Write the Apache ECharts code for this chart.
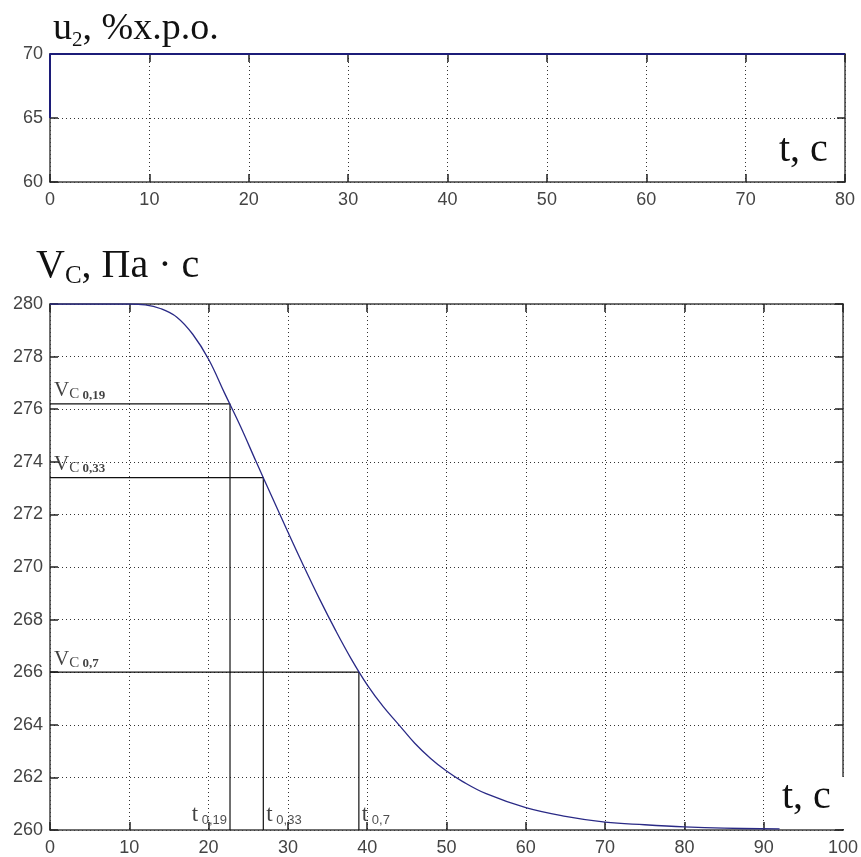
<!DOCTYPE html>
<html>
<head>
<meta charset="utf-8">
<script src="https://cdn.jsdelivr.net/npm/echarts@6/dist/echarts.min.js"></script>
<style>
html, body { margin: 0; padding: 0; background: #fff; }
#main { width: 861px; height: 857px; }
</style>
</head>
<body>
<div id="main"></div>
<script>
// u2 step (top plot)
var u2T = [0, 0, 80];
var u2V = [65, 70, 70];

// Vc response (bottom plot)
var vcT = [0, 5, 10, 12, 14, 16, 18, 20, 22, 24, 26, 28, 30, 32, 34, 36, 38, 40, 42, 44, 46, 48, 50, 52, 55, 60, 65, 70, 75, 80, 85, 92];
var vcV = [280, 280, 280, 279.97, 279.82, 279.5, 278.85, 277.9, 276.62, 275.36, 274.0, 272.66, 271.33, 270.03, 268.78, 267.6, 266.5, 265.52, 264.7, 264.0, 263.3, 262.72, 262.24, 261.85, 261.38, 260.85, 260.52, 260.3, 260.2, 260.12, 260.07, 260.04];

// marked levels
var markT = [22.7, 26.9, 38.95];
var markV = [276.2, 273.4, 266.0];
var markName = ['0,19', '0,33', '0,7'];

var topXTicks = { min: 0, max: 80, interval: 10 };
var topYTicks = { min: 60, max: 70, interval: 5 };
var botXTicks = { min: 0, max: 100, interval: 10 };
var botYTicks = { min: 260, max: 280, interval: 2 };

function zip(a, b) {
    var out = [];
    for (var i = 0; i < a.length; i++) out.push([a[i], b[i]]);
    return out;
}

var axisCol = '#404040';
var gridLine = { show: true, lineStyle: { color: '#333', width: 1, type: [1, 3] } };

function xAx(grid, r, bottom) {
    return {
        type: 'value', gridIndex: grid, min: r.min, max: r.max, interval: r.interval,
        position: bottom ? 'bottom' : 'top',
        axisLine: { show: true, onZero: false, lineStyle: { color: axisCol, width: 1.5 } },
        axisTick: { show: true, inside: true, length: 8, lineStyle: { color: '#222', width: 1.5 } },
        axisLabel: { show: bottom, color: '#444', fontSize: 18, fontFamily: 'Liberation Sans', margin: 9 },
        splitLine: bottom ? gridLine : { show: false }
    };
}
function yAx(grid, r, left) {
    return {
        type: 'value', gridIndex: grid, min: r.min, max: r.max, interval: r.interval,
        position: left ? 'left' : 'right',
        axisLine: { show: true, onZero: false, lineStyle: { color: axisCol, width: 1.5 } },
        axisTick: { show: true, inside: true, length: 8, lineStyle: { color: '#222', width: 1.5 } },
        axisLabel: { show: left, color: '#444', fontSize: 18, fontFamily: 'Liberation Sans', margin: 7 },
        splitLine: left ? gridLine : { show: false }
    };
}

var serif = 'Liberation Serif';

var series = [
    {
        type: 'line', xAxisIndex: 0, yAxisIndex: 0, data: zip(u2T, u2V),
        showSymbol: false, symbol: 'none', lineStyle: { color: '#1c1c78', width: 2 }, z: 5
    },
    {
        type: 'line', xAxisIndex: 2, yAxisIndex: 2, data: zip(vcT, vcV), smooth: 0.4,
        showSymbol: false, symbol: 'none', lineStyle: { color: '#2a2a86', width: 1.3 }, z: 5
    }
];

// guide lines and labels
for (var i = 0; i < markT.length; i++) {
    series.push({
        type: 'line', xAxisIndex: 2, yAxisIndex: 2,
        data: [[0, markV[i]], [markT[i], markV[i]], [markT[i], 260]],
        showSymbol: false, symbol: 'none', lineStyle: { color: '#111', width: 1.2 }, z: 4
    });
    series.push({
        type: 'scatter', xAxisIndex: 2, yAxisIndex: 2, symbolSize: 0,
        data: [[0, markV[i]]], z: 6, silent: true,
        label: {
            show: true, position: [4, -2], align: 'left', verticalAlign: 'bottom',
            formatter: '{v|V}{c|C}{n| ' + markName[i] + '}',
            rich: {
                v: { fontFamily: serif, fontSize: 21, color: '#111', verticalAlign: 'middle', lineHeight: 22 },
                c: { fontFamily: serif, fontSize: 15, color: '#111', verticalAlign: 'bottom', lineHeight: 22 },
                n: { fontFamily: serif, fontSize: 13, fontWeight: 'bold', color: '#111', verticalAlign: 'bottom', lineHeight: 22 }
            }
        }
    });
    series.push({
        type: 'scatter', xAxisIndex: 2, yAxisIndex: 2, symbolSize: 0,
        data: [[markT[i], 260]], z: 6, silent: true,
        label: {
            show: true, position: i === 0 ? [-3, -3] : [3, -3], align: i === 0 ? 'right' : 'left', verticalAlign: 'bottom',
            formatter: '{t|t}{n| ' + markName[i] + '}',
            rich: {
                t: { fontFamily: serif, fontSize: 23, color: '#111', verticalAlign: 'middle', lineHeight: 24 },
                n: { fontFamily: 'Liberation Sans', fontSize: 13, color: '#222', verticalAlign: 'bottom', lineHeight: 24 }
            }
        }
    });
}

var option = {
    animation: false,
    backgroundColor: '#fff',
    grid: [
        { left: 50, right: 16, top: 54, height: 128 },
        { left: 50, right: 16, top: 304, height: 527 }
    ],
    xAxis: [xAx(0, topXTicks, true), xAx(0, topXTicks, false), xAx(1, botXTicks, true), xAx(1, botXTicks, false)],
    yAxis: [yAx(0, topYTicks, true), yAx(0, topYTicks, false), yAx(1, botYTicks, true), yAx(1, botYTicks, false)],
    title: [
        {
            left: 48, top: 2,
            text: '{a|u}{s|2}{a|, %x.p.o.}',
            textStyle: {
                fontWeight: 'normal',
                rich: {
                    a: { fontFamily: serif, fontSize: 38, fontWeight: 'normal', color: '#111', verticalAlign: 'middle', lineHeight: 44 },
                    s: { fontFamily: serif, fontSize: 21, fontWeight: 'normal', color: '#111', verticalAlign: 'bottom', lineHeight: 44 }
                }
            }
        },
        {
            left: 31, top: 238,
            text: '{a|V}{s|C}{a|, Па · c}',
            textStyle: {
                fontWeight: 'normal',
                rich: {
                    a: { fontFamily: serif, fontSize: 40, fontWeight: 'normal', color: '#111', verticalAlign: 'middle', lineHeight: 46 },
                    s: { fontFamily: serif, fontSize: 25, fontWeight: 'normal', color: '#111', verticalAlign: 'bottom', lineHeight: 46 }
                }
            }
        }
    ],
    graphic: [
        {
            type: 'text', left: 779, top: 130, z: 10,
            style: { text: 't, c', font: '40px "Liberation Serif"', fill: '#111' }
        },
        {
            type: 'rect', left: 766, top: 777, z: 3,
            shape: { width: 78, height: 52 },
            style: { fill: '#fff' }
        },
        {
            type: 'text', left: 782, top: 777, z: 10,
            style: { text: 't, c', font: '40px "Liberation Serif"', fill: '#111' }
        }
    ],
    series: series
};

var myChart = echarts.init(document.getElementById('main'));
myChart.setOption(option);
</script>
</body>
</html>
